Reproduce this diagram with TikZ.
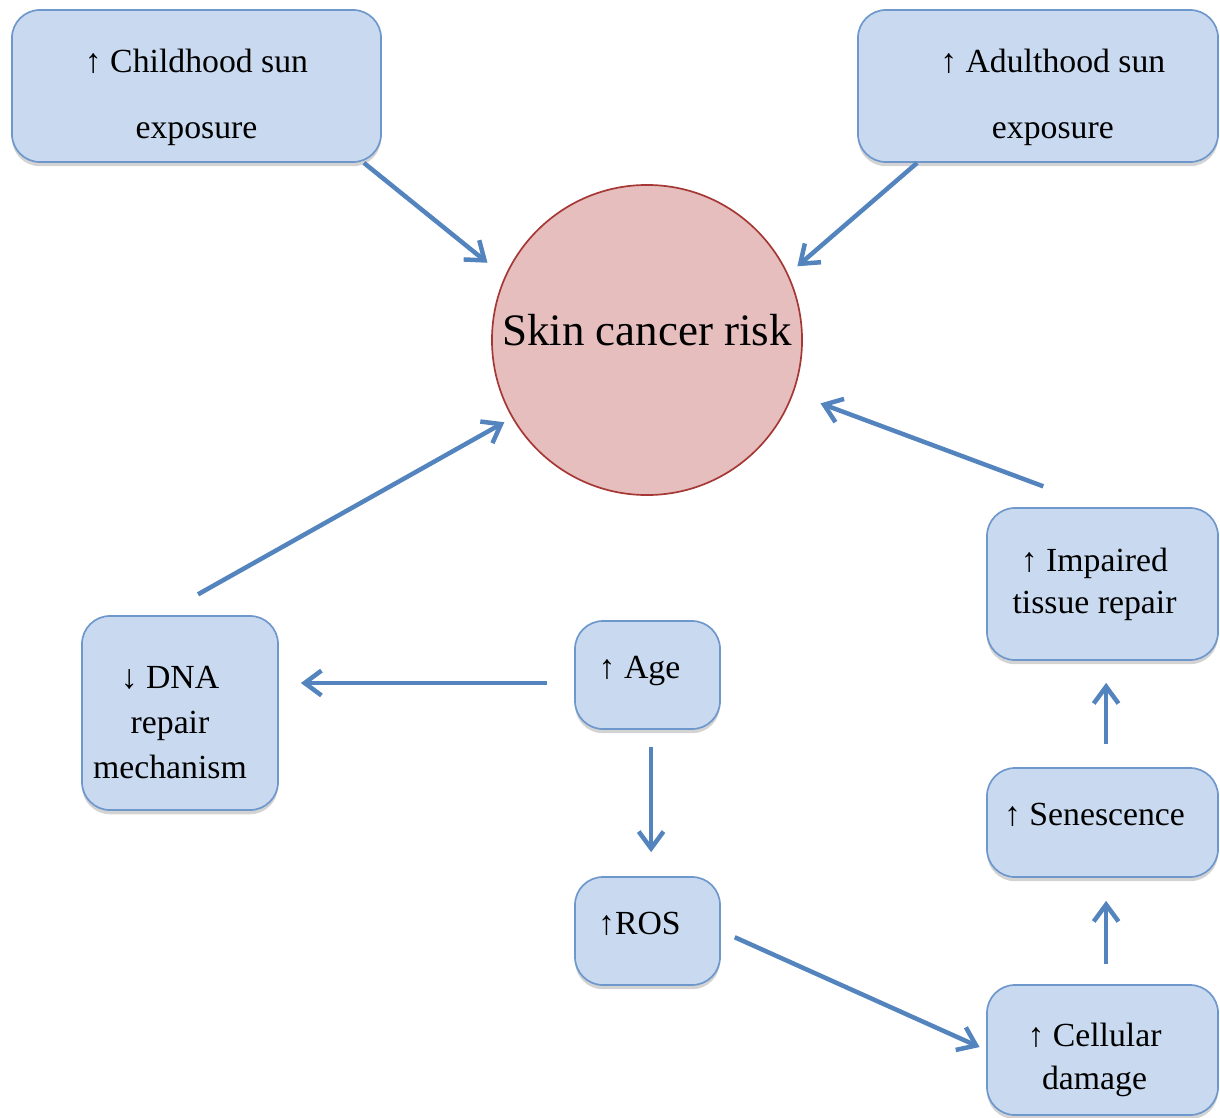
\documentclass[tikz,border=0pt]{standalone}
\usepackage{fontspec}
\setmainfont{Liberation Serif}
\usetikzlibrary{arrows.meta,shadows}
\definecolor{boxfill}{RGB}{201,218,240}
\definecolor{boxline}{RGB}{110,152,204}
\definecolor{linkblue}{RGB}{84,132,190}
\definecolor{riskfill}{RGB}{230,190,190}
\definecolor{riskline}{RGB}{165,55,52}
\begin{document}
\begin{tikzpicture}[x=0.025cm, y=-0.025cm,
    factor/.style = {draw=boxline, line width=1.2pt, fill=boxfill, rounded corners=0.7cm, inner sep=0pt,
        drop shadow={opacity=.35, shadow xshift=0pt, shadow yshift=-3pt}},
    boxtext/.style = {align=center, inner sep=0pt, font=\fontsize{24}{30}\selectfont},
    link/.style = {draw=linkblue, line width=3.2pt, -{Straight Barb[length=.42cm,width=.62cm]}}]
        \useasboundingbox (0,0) rectangle (1220,1117);

        % outcome
        \node[circle, draw=riskline, line width=1.2pt, fill=riskfill, minimum size=7.75cm, inner sep=0pt,
            label={[boxtext, font=\fontsize{32}{38}\selectfont, yshift=0.25cm]center:Skin cancer risk}]
            (risk) at (647,340) {};

        % factors
        \node[factor, minimum width=9.225cm, minimum height=3.8cm,
            label={[boxtext, font=\fontsize{24}{47}\selectfont, yshift=-0.29cm]center:{↑ Childhood sun\\exposure}}]
            (child) at (196.5,86) {};
        \node[factor, minimum width=9cm, minimum height=3.8cm,
            label={[boxtext, font=\fontsize{24}{47}\selectfont, xshift=0.37cm, yshift=-0.29cm]center:{↑ Adulthood sun\\exposure}}]
            (adult) at (1038,86) {};
        \node[factor, minimum width=4.9cm, minimum height=4.85cm,
            label={[boxtext, font=\fontsize{24}{32}\selectfont, xshift=-0.25cm, yshift=-0.25cm]center:{↓ DNA\\repair\\mechanism}}]
            (dna) at (180,713) {};
        \node[factor, minimum width=3.625cm, minimum height=2.7cm,
            label={[boxtext, xshift=-0.2cm, yshift=0.1cm]center:↑ Age}] (age) at (647.5,675) {};
        \node[factor, minimum width=3.625cm, minimum height=2.7cm,
            label={[boxtext, xshift=-0.2cm, yshift=0.18cm]center:↑ROS}] (ros) at (647.5,931) {};
        \node[factor, minimum width=5.775cm, minimum height=3.8cm,
            label={[boxtext, xshift=-0.2cm]center:{↑ Impaired\\tissue repair}}] (impair) at (1102.5,584) {};
        \node[factor, minimum width=5.775cm, minimum height=2.725cm,
            label={[boxtext, xshift=-0.2cm, yshift=0.18cm]center:↑ Senescence}] (senes) at (1102.5,822.5) {};
        \node[factor, minimum width=5.775cm, minimum height=3.25cm,
            label={[boxtext, xshift=-0.2cm, yshift=-0.25cm]center:{↑ Cellular\\damage}}] (cell) at (1102.5,1050) {};

        % links
        \draw[link, shorten >=0.55cm] ([xshift=-0.45cm]child.south east) -- (risk.156);
        \draw[link, shorten >=0.3cm] ([xshift=1.5cm]adult.south west) -- (risk.25);
        \draw[link, shorten >=0.22cm] ([shift={(0.45cm,0.52cm)}]dna.north) -- (risk.210);
        \draw[link, shorten >=0.72cm] ([shift={(-1.48cm,0.52cm)}]impair.north) -- (risk.340);
        \coordinate (agew) at ([yshift=-0.2cm]age.west);
        \draw[link, shorten <=0.68cm, shorten >=0.55cm] (agew) -- (agew -| dna.east);
        \draw[link, shorten <=0.425cm, shorten >=0.6cm] ([xshift=0.09cm]age.south) -- ([xshift=0.09cm]ros.north);
        \draw[link, shorten <=0.38cm, shorten >=0.18cm] (ros.east) -- (cell.west);
        \draw[link, shorten <=0.5cm, shorten >=0.575cm] ([xshift=0.09cm]cell.north) -- ([xshift=0.09cm]senes.south);
        \draw[link, shorten <=0.575cm, shorten >=0.55cm] ([xshift=0.09cm]senes.north) -- ([xshift=0.09cm]impair.south);
\end{tikzpicture}
\end{document}
